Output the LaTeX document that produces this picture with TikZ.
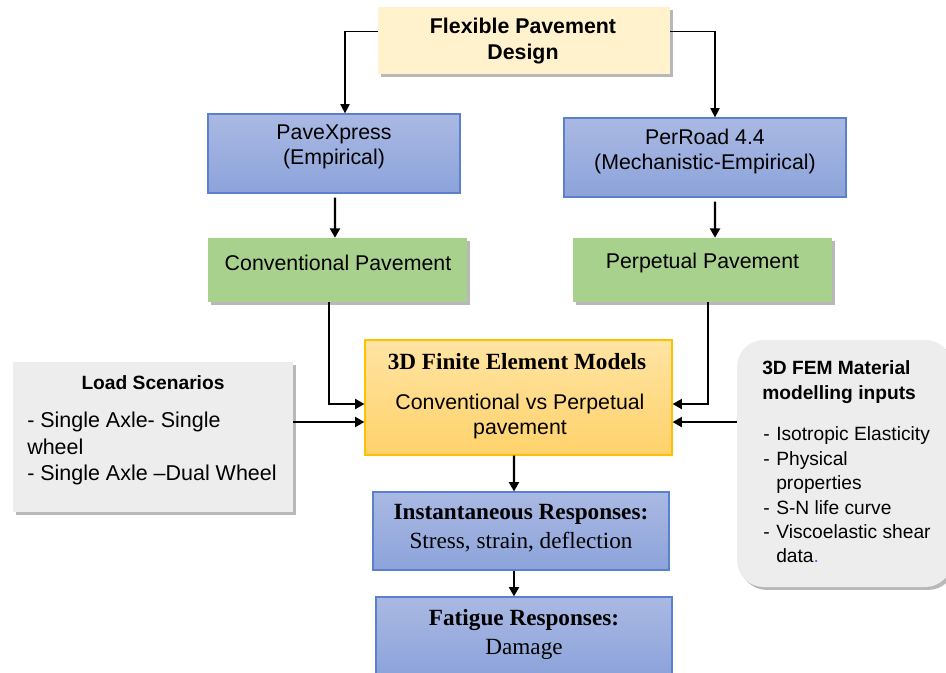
\documentclass[tikz,border=0pt]{standalone}
\usepackage{fontspec}
\setmainfont{Liberation Sans}
\newfontfamily\tnr{Liberation Serif}
\usetikzlibrary{arrows.meta,shadows,calc}
\definecolor{topfill}{HTML}{FFF2CC}
\definecolor{blueT}{HTML}{AAB9E3}
\definecolor{blueB}{HTML}{8CA3DA}
\definecolor{blueD}{HTML}{5B80D0}
\definecolor{greenF}{HTML}{A9D18E}
\definecolor{femT}{HTML}{FFE4A3}
\definecolor{femB}{HTML}{FFD26B}
\definecolor{femD}{HTML}{FFC000}
\definecolor{greyF}{HTML}{EDEDED}
\definecolor{dotblue}{HTML}{4472C4}
\def\pxu{0.75pt}
\tikzset{
  boxbase/.style={rectangle, inner sep=0pt},
  shadowed/.style={drop shadow={shadow xshift=2.2pt, shadow yshift=-2.2pt, fill=black, opacity=0.28}},
  topbox/.style={boxbase, fill=topfill, shadowed},
  bluebox/.style={boxbase, top color=blueT, bottom color=blueB, draw=blueD, line width=0.9pt},
  greenbox/.style={boxbase, fill=greenF, shadowed},
  fembox/.style={boxbase, top color=femT, bottom color=femB, draw=femD, line width=0.9pt},
  greybox/.style={boxbase, fill=greyF, shadowed},
  txt/.style={inner sep=0pt, align=center},
  thinarr/.style={draw=black, line width=0.8pt, -{Triangle[length=7pt,width=7pt]}},
  thickarr/.style={draw=black, line width=1.6pt, -{Triangle[length=7pt,width=7.5pt]}},
  fA/.style={font=\fontsize{16pt}{18.75pt}\selectfont},
  fAB/.style={font=\bfseries\fontsize{16pt}{19.5pt}\selectfont},
  fS/.style={font=\fontsize{14.4pt}{18.3pt}\selectfont},
  fSB/.style={font=\bfseries\fontsize{14.4pt}{18.75pt}\selectfont},
  fT/.style={font=\tnr\fontsize{17.4pt}{21.75pt}\selectfont},
  fTB/.style={font=\tnr\bfseries\fontsize{17.4pt}{21.75pt}\selectfont},
}
\begin{document}
\begin{tikzpicture}[x=0.75pt, y=-0.75pt]
\clip (0,0) rectangle (946,673);
\useasboundingbox (0,0) rectangle (946,673);

% boxes
\node[topbox, minimum width=292*\pxu, minimum height=67*\pxu] (top) at (524,40.5) {};
\node[bluebox, minimum width=252*\pxu, minimum height=79*\pxu] (pave) at (334,153.5) {};
\node[bluebox, minimum width=282*\pxu, minimum height=79*\pxu] (perroad) at (705,157.5) {};
\node[greenbox, minimum width=259*\pxu, minimum height=64*\pxu] (conv) at (337.5,270) {};
\node[greenbox, minimum width=259*\pxu, minimum height=64*\pxu] (perp) at (702.5,270) {};
\node[fembox, minimum width=307*\pxu, minimum height=115*\pxu] (fem) at (518.5,397.5) {};
\node[greybox, minimum width=280*\pxu, minimum height=150*\pxu] (load) at (153,437) {};
\node[greybox, rounded corners=20pt, minimum width=215*\pxu, minimum height=247*\pxu] (mat) at (844.5,463.5) {};
\node[bluebox, minimum width=296*\pxu, minimum height=78*\pxu] (inst) at (521,531) {};
\node[bluebox, minimum width=296*\pxu, minimum height=78*\pxu] (fat) at (524,636) {};

% texts
\node[txt, fAB] (topt) at (523,41) {Flexible Pavement\\Design};
\node[txt, fA] (pavet) at (334,146.5) {PaveXpress\\(Empirical)};
\node[txt, fA] (perroadt) at (705,151) {PerRoad 4.4\\(Mechanistic-Empirical)};
\node[txt, fA] (convt) at (338,263) {Conventional Pavement};
\node[txt, fA] (perpt) at (702.5,263) {Perpetual Pavement};
\node[txt, fTB] (femtitle) at (517,362) {3D Finite Element Models};
\node[txt, fA] (femt) at (520,416.5) {Conventional vs Perpetual\\pavement};
\node[txt, fSB] (loadtitle) at (153,383) {Load Scenarios};
\node[txt, align=left, anchor=west, font=\fontsize{16.1pt}{19.9pt}\selectfont] (loadt) at (27,448.5) {- Single Axle- Single\\wheel\\- Single Axle \textendash Dual Wheel};
\node[txt, fSB, align=left, anchor=west] (mattitle) at (762,382.5) {3D FEM Material\\modelling inputs};
\node[txt, fS, align=left, anchor=west] (matt) at (763,495) {\makebox[9.75pt][l]{-}Isotropic Elasticity\\\makebox[9.75pt][l]{-}Physical\\\hspace*{9.75pt}properties\\\makebox[9.75pt][l]{-}S-N life curve\\\makebox[9.75pt][l]{-}Viscoelastic shear\\\hspace*{9.75pt}data{\color{dotblue}.}};
\node[txt, fT] (instt) at (521,528) {\textbf{Instantaneous Responses:}\\Stress, strain, deflection};
\node[txt, fT] (fatt) at (524,634.5) {\textbf{Fatigue Responses:}\\Damage};

% connectors
\draw[thinarr] ([yshift=6.4pt]top.west) -| ([xshift=8.25pt]pave.north);
\draw[thinarr] ([yshift=6.4pt]top.east) -| ([xshift=7.5pt]perroad.north);
\draw[thickarr] ([xshift=0.75pt, yshift=-3pt]pave.south) -- ([xshift=-1.9pt]conv.north);
\draw[thickarr] ([xshift=7.5pt, yshift=-3pt]perroad.south) -- ([xshift=9.4pt]perp.north);
\draw[thickarr] ([xshift=-6.4pt]conv.south) |- ([yshift=-4.9pt]fem.west);
\draw[thickarr] ([xshift=4.1pt]perp.south) |- ([yshift=-4.9pt]fem.east);
\draw[thickarr] ([yshift=11.25pt]load.east) -- ([yshift=11.25pt]load.east -| fem.west);
\draw[thickarr] ([yshift=31.1pt]mat.west) -- ([yshift=31.1pt]mat.west -| fem.east);
\draw[thickarr] ([xshift=-3.4pt]fem.south) -- ([xshift=-5.25pt]inst.north);
\draw[thickarr] ([xshift=-5.25pt]inst.south) -- ([xshift=-7.5pt]fat.north);
\end{tikzpicture}
\end{document}
